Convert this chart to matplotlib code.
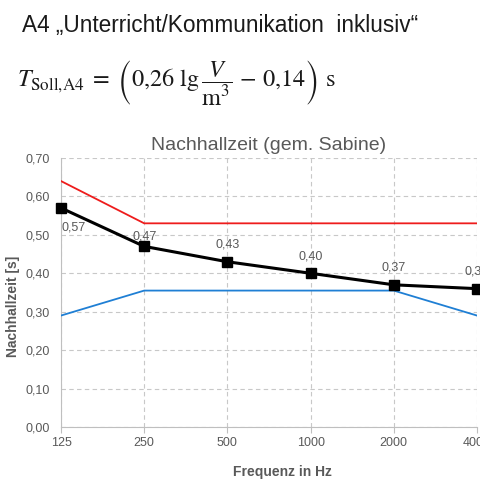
import numpy as np
import matplotlib
matplotlib.use("Agg")
import matplotlib.pyplot as plt
from matplotlib.ticker import FixedLocator, FixedFormatter

# data
freq = [125, 250, 500, 1000, 2000, 4000]
freq_labels = ["125", "250", "500", "1000", "2000", "4000"]
t_measured = [0.57, 0.47, 0.43, 0.40, 0.37, 0.36]
t_upper = [0.64, 0.53, 0.53, 0.53, 0.53, 0.53]
t_lower = [0.29, 0.355, 0.355, 0.355, 0.355, 0.29]
y_ticks = [0.0, 0.1, 0.2, 0.3, 0.4, 0.5, 0.6, 0.7]

plt.rcParams["font.family"] = ["Liberation Sans", "DejaVu Sans"]
plt.rcParams["mathtext.fontset"] = "stix"

gray = "#595959"
fig = plt.figure(figsize=(4.8, 4.8), dpi=100)

# header text
fig.text(22 / 480, 1 - 32 / 480, "A4 \u201eUnterricht/Kommunikation  inklusiv\u201c",
         fontsize=16.3, color="#1a1a1a", ha="left", va="baseline")
fig.text(17 / 480, 1 - 83 / 480,
         r"$T_{\mathrm{Soll{,}A4}}\;=\;\left(0{,}26\ \mathrm{lg}\,\dfrac{V}{\mathrm{m}^3}\,-\,0{,}14\right)\ \mathrm{s}$",
         fontsize=17.5, color="#1a1a1a", ha="left", va="center")

ax = fig.add_axes([61 / 480, 1 - 427 / 480, 416 / 480, 269 / 480])
ax.set_xscale("log", base=2)

ax.plot(freq, t_upper, color="#ee1c1c", lw=1.3, zorder=3)
ax.plot(freq, t_lower, color="#1f7fd4", lw=1.3, zorder=3)
ax.plot(freq, t_measured, color="black", lw=2.2, marker="s", markersize=7.5, zorder=4, clip_on=False)

for i, (f, v) in enumerate(zip(freq, t_measured)):
    lab = "{:.2f}".format(v).replace(".", ",")
    if i == 0:
        ax.annotate(lab, (f, v), xytext=(9, -10), textcoords="offset points",
                    ha="center", va="top", fontsize=9, color=gray)
    elif i == 1:
        ax.annotate(lab, (f, v), xytext=(0, 3), textcoords="offset points",
                    ha="center", va="bottom", fontsize=9, color=gray)
    else:
        ax.annotate(lab, (f, v), xytext=(0, 8), textcoords="offset points",
                    ha="center", va="bottom", fontsize=9, color=gray)

ax.set_xlim(125, 4000)
ax.set_ylim(0, 0.7)
ax.xaxis.set_major_locator(FixedLocator(freq))
ax.xaxis.set_major_formatter(FixedFormatter(freq_labels))
ax.xaxis.set_minor_locator(FixedLocator([]))
ax.set_yticks(y_ticks)
ax.set_yticklabels(["{:.2f}".format(v).replace(".", ",") for v in y_ticks])

ax.grid(True, color="#c8c8c8", linestyle=(0, (4, 3)), lw=0.8)
ax.set_axisbelow(True)
for s in ["top", "right"]:
    ax.spines[s].set_visible(False)
for s in ["left", "bottom"]:
    ax.spines[s].set_color("#bfbfbf")
ax.tick_params(axis="x", colors="#bfbfbf", labelcolor=gray, labelsize=9, length=4, direction="out")
ax.tick_params(axis="y", length=0, labelcolor=gray, labelsize=9, pad=8)

ax.set_title("Nachhallzeit (gem. Sabine)", fontsize=14, color=gray, pad=6)
ax.set_xlabel("Frequenz in Hz", fontsize=10, fontweight="bold", color=gray)
ax.set_ylabel("Nachhallzeit [s]", fontsize=10, fontweight="bold", color=gray)
ax.xaxis.set_label_coords((282 - 61) / 416, -(465 - 427) / 269)
ax.yaxis.set_label_coords(-(61 - 20) / 416, (427 - 306) / 269)

fig.savefig("out.png", dpi=100)
